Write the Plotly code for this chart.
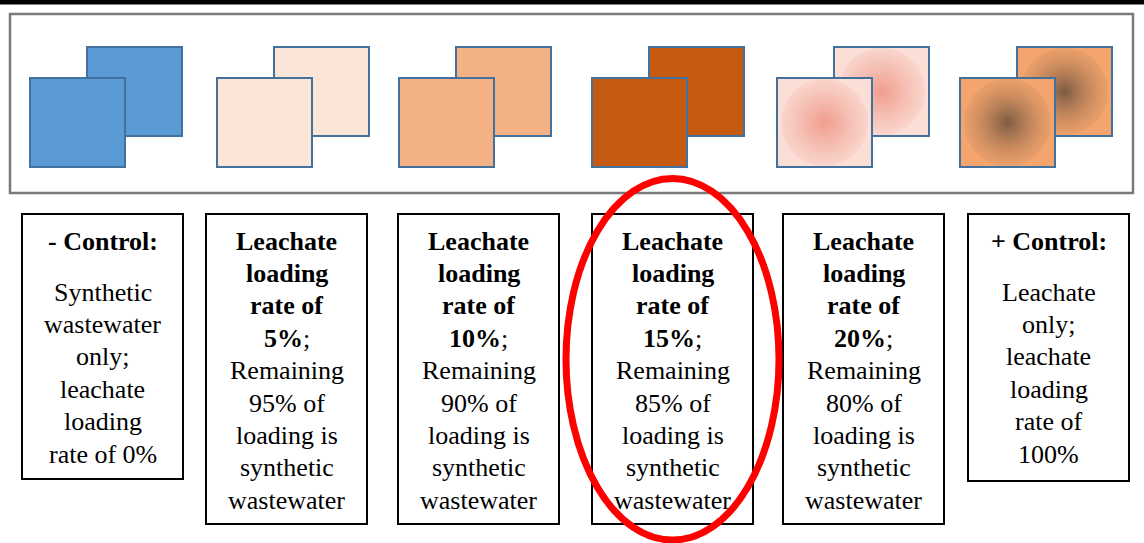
import plotly.graph_objects as go

# treatment panels, left to right
panel_heads = ["- Control:", None, None, None, None, "+ Control:"]
panel_lines = [
    ["Synthetic", "wastewater", "only;", "leachate", "loading", "rate of 0%"],
    ["<b>Leachate</b>", "<b>loading</b>", "<b>rate of</b>", "<b>5%</b>;",
     "Remaining", "95% of", "loading is", "synthetic", "wastewater"],
    ["<b>Leachate</b>", "<b>loading</b>", "<b>rate of</b>", "<b>10%</b>;",
     "Remaining", "90% of", "loading is", "synthetic", "wastewater"],
    ["<b>Leachate</b>", "<b>loading</b>", "<b>rate of</b>", "<b>15%</b>;",
     "Remaining", "85% of", "loading is", "synthetic", "wastewater"],
    ["<b>Leachate</b>", "<b>loading</b>", "<b>rate of</b>", "<b>20%</b>;",
     "Remaining", "80% of", "loading is", "synthetic", "wastewater"],
    ["Leachate", "only;", "leachate", "loading", "rate of", "100%"],
]
# solid fill, or (centre, edge) colours for the radial-gradient samples
square_fills = ["#5B9BD5", "#FBE5D6", "#F4B183", "#C55A11",
                ("#F09C8C", "#FBDFD7"), ("#7A5A42", "#F4A56E")]
# how fast the shading falls off (fade radius, exponent) for gradient samples
shading = {4: (56, 1.2), 5: (58, 1.7)}
highlighted = 3

W, H = 1144, 543
FONT = "Liberation Serif, DejaVu Serif, serif"
OUTLINE = "#41719C"

sq_x0 = [30, 217, 399, 592, 777, 960]
sq_w, sq_h = 95, 89
back_dx, back_dy = 57, -31
sq_top = 78

box_x0 = [22, 206, 398, 592, 783, 968]
box_w = 161
box_top = 214
box_bottom = [479, 524, 524, 524, 524, 481]

line_gap = 32.4
first_line = 241
body_after_head = 292

fig = go.Figure()
shapes = []
annotations = []

# black strip along the top and the grey frame round the samples
shapes.append(dict(type="rect", x0=0, x1=W, y0=0, y1=4.5,
                   fillcolor="black", line=dict(width=0)))
shapes.append(dict(type="rect", x0=10, x1=1133, y0=14, y1=193,
                   fillcolor="white", line=dict(color="#7A7A7A", width=2.5)))


def mix(c1, c2, t):
    a = [int(c1[k:k + 2], 16) for k in (1, 3, 5)]
    b = [int(c2[k:k + 2], 16) for k in (1, 3, 5)]
    return "rgb(%d,%d,%d)" % tuple(round(p + (q - p) * t) for p, q in zip(a, b))


def add_square(x0, y0, fill, shade=None):
    if isinstance(fill, tuple):
        centre, edge = fill
        fade, power = shade
        shapes.append(dict(type="rect", x0=x0, x1=x0 + sq_w, y0=y0, y1=y0 + sq_h,
                           fillcolor=edge, line=dict(width=0)))
        # radial shading built from concentric discs
        cx, cy = x0 + sq_w / 2, y0 + sq_h / 2
        r = sq_h / 2 - 1
        while r > 0.5:
            t = max(0.0, 1 - r / fade) ** power
            shapes.append(dict(type="circle", x0=cx - r, x1=cx + r, y0=cy - r, y1=cy + r,
                               fillcolor=mix(edge, centre, t), line=dict(width=0)))
            r -= 1.5
        shapes.append(dict(type="rect", x0=x0, x1=x0 + sq_w, y0=y0, y1=y0 + sq_h,
                           line=dict(color=OUTLINE, width=2)))
    else:
        shapes.append(dict(type="rect", x0=x0, x1=x0 + sq_w, y0=y0, y1=y0 + sq_h,
                           fillcolor=fill, line=dict(color=OUTLINE, width=2)))


for i, fill in enumerate(square_fills):
    add_square(sq_x0[i] + back_dx, sq_top + back_dy, fill, shading.get(i))
    add_square(sq_x0[i], sq_top, fill, shading.get(i))

# text panels
for i, lines in enumerate(panel_lines):
    x0 = box_x0[i]
    cx = x0 + box_w / 2
    shapes.append(dict(type="rect", x0=x0, x1=x0 + box_w, y0=box_top, y1=box_bottom[i],
                       line=dict(color="black", width=2)))
    y = first_line
    if panel_heads[i]:
        annotations.append(dict(x=cx, y=y, text=f"<b>{panel_heads[i]}</b>",
                                showarrow=False, xanchor="center", yanchor="middle",
                                font=dict(family=FONT, size=26, color="black")))
        y = body_after_head
    for j, txt in enumerate(lines):
        annotations.append(dict(x=cx, y=y + j * line_gap, text=txt,
                                showarrow=False, xanchor="center", yanchor="middle",
                                font=dict(family=FONT, size=26, color="black")))

# red ring round the 15% treatment
hx = box_x0[highlighted] + box_w / 2
shapes.append(dict(type="circle", x0=hx - 106.5, x1=hx + 106.5, y0=178.5, y1=540,
                   line=dict(color="#FF0000", width=7)))

fig.update_layout(
    width=W, height=H,
    margin=dict(l=0, r=0, t=0, b=0),
    paper_bgcolor="white", plot_bgcolor="white",
    xaxis=dict(range=[0, W], visible=False, fixedrange=True),
    yaxis=dict(range=[H, 0], visible=False, fixedrange=True),
    shapes=shapes, annotations=annotations,
    showlegend=False,
)

fig.write_html("out.html", config={"displayModeBar": False},
               post_script="document.body.style.margin = '0';")
